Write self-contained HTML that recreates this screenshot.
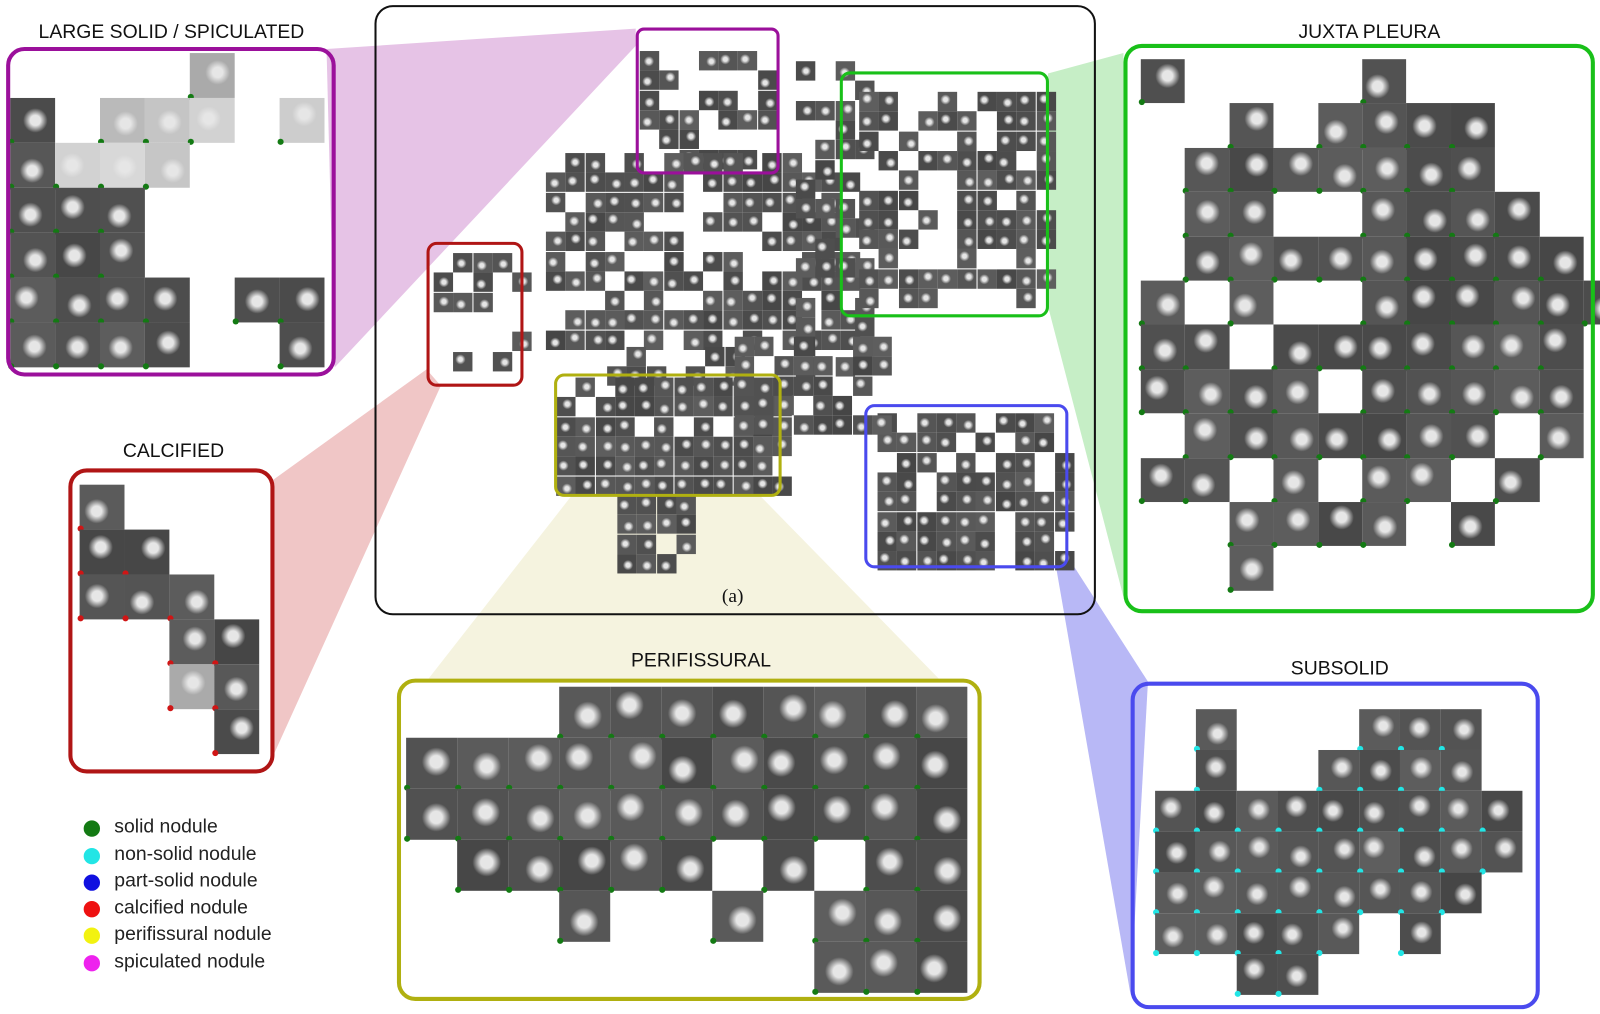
<!DOCTYPE html>
<html><head><meta charset="utf-8">
<style>
body{margin:0;width:1600px;height:1014px;background:#fff;position:relative;overflow:hidden;font-family:"Liberation Sans",sans-serif}
#w{position:absolute;left:0;top:0;width:1568px;height:994px;transform:scale(1.0204);transform-origin:0 0}
.b{position:absolute;border-radius:18px;box-sizing:border-box;border-style:solid}
.t{position:absolute;font-size:19px;color:#111;transform:translateX(-50%);white-space:nowrap}
.tile{position:absolute}
.dot{position:absolute;width:6px;height:6px;border-radius:50%}
.lg{position:absolute;left:82px;font-size:19px;color:#222}
.lg i{position:absolute;left:0;top:4px;width:16px;height:16px;border-radius:50%}
.lg span{position:absolute;left:30px;top:0;white-space:nowrap}
</style></head><body><div id="w">
<svg width="1568" height="994" style="position:absolute;left:0;top:0">
<polygon points="320,48 623,28 623,45 328,360" fill="#e6c3e6"/>
<polygon points="418,362 432,378 268,740 268,470" fill="#f0c6c6"/>
<polygon points="1027,72 1101,52 1101,585 1027,300" fill="#c6eec6"/>
<polygon points="560,486 745,486 920,665 420,665" fill="#f5f3df"/>
<polygon points="1035,556 1046,545 1125,668 1108,975" fill="#b8b8f6"/>
</svg>
<div class="b" style="left:367px;top:5px;width:707px;height:598px;border-width:2px;border-color:#111"></div>
<div class="t" style="left:718px;top:574px;font-family:'Liberation Serif',serif;font-size:19px">(a)</div>
<div id="tiles"></div>
<div class="b" style="left:623px;top:27px;width:141px;height:144px;border-width:3px;border-color:#9b109b;border-radius:8px"></div>
<div class="b" style="left:823px;top:70px;width:205px;height:241px;border-width:3px;border-color:#19c019;border-radius:10px"></div>
<div class="b" style="left:418px;top:237px;width:95px;height:142px;border-width:3px;border-color:#b01515;border-radius:10px"></div>
<div class="b" style="left:543px;top:366px;width:223px;height:121px;border-width:3px;border-color:#b0b010;border-radius:10px"></div>
<div class="b" style="left:847px;top:396px;width:200px;height:161px;border-width:3px;border-color:#4a4aee;border-radius:10px"></div>

<div class="b" style="left:6px;top:46px;width:323px;height:323px;border-width:4px;border-color:#9b109b"></div>
<div class="t" style="left:168px;top:21px">LARGE SOLID / SPICULATED</div>
<div class="b" style="left:67px;top:459px;width:202px;height:299px;border-width:4px;border-color:#b01515"></div>
<div class="t" style="left:170px;top:432px">CALCIFIED</div>
<div class="b" style="left:1101px;top:43px;width:462px;height:558px;border-width:4px;border-color:#19c019"></div>
<div class="t" style="left:1342px;top:21px">JUXTA PLEURA</div>
<div class="b" style="left:389px;top:665px;width:573px;height:316px;border-width:4px;border-color:#b0b010"></div>
<div class="t" style="left:687px;top:637px">PERIFISSURAL</div>
<div class="b" style="left:1108px;top:668px;width:401px;height:321px;border-width:4px;border-color:#4a4aee"></div>
<div class="t" style="left:1313px;top:645px">SUBSOLID</div>

<div class="lg" style="top:800px"><i style="background:#137a13"></i><span>solid nodule</span></div>
<div class="lg" style="top:827px"><i style="background:#22e5e5"></i><span>non-solid nodule</span></div>
<div class="lg" style="top:853px"><i style="background:#1010e0"></i><span>part-solid nodule</span></div>
<div class="lg" style="top:879px"><i style="background:#ee1111"></i><span>calcified nodule</span></div>
<div class="lg" style="top:905px"><i style="background:#f2f210"></i><span>perifissural nodule</span></div>
<div class="lg" style="top:932px"><i style="background:#ee22ee"></i><span>spiculated nodule</span></div>
</div>
<script>
var c=document.getElementById('tiles'),h='';
var s=7;function r(){s=(s*16807)%2147483647;return s/2147483647;}
function tile(x,y,w,light,dot){
 var g=light?(170+r()*50|0):(70+r()*25|0);var cc=230;
 var bg='radial-gradient(circle at '+(35+r()*30|0)+'% '+(35+r()*30|0)+'%, rgb('+cc+','+cc+','+cc+') 0, rgb('+cc+','+cc+','+cc+') '+(w*0.12|0)+'px, rgb('+g+','+g+','+g+') '+(w*0.28|0)+'px)';
 h+='<div class="tile" style="left:'+x+'px;top:'+y+'px;width:'+w+'px;height:'+w+'px;background:'+bg+'"></div>';
 if(dot)h+='<div class="dot" style="left:'+(x-2)+'px;top:'+(y+w-4)+'px;background:'+dot+'"></div>';
}
function grid(x0,y0,w,rows,light,dot){rows.forEach(function(row,i){for(var j=0;j<row.length;j++)if(row[j]!='.')tile(x0+j*w,y0+i*w,w,light||row[j]=='L',dot);});}
grid(10,52,44,["....L..","#.LLL.L","#LLL...","###....","###....","####.##","####..#"],false,'#137a13');
grid(78,475,44,["#...","##..","###.","..##","..L#","...#"],false,'#d01515');
grid(1118,58,43.4,["#....#....","..#.####..",".#######..",".##..####.",".#########","#.#..######","##.#######.","####.#####.",".#######.#.","##.#.##.#..","..####.#...","..#........"],false,'#137a13');
grid(398,673,50,["...########","###########","###########",".#####.#.##","...#..#.###","........###"],false,'#137a13');
grid(1132,695,40,[".#...###.",".#..####.","#########","#########","########.","#####.#..","..##....."],false,'#22e5e5');
function blob(x0,y0,x1,y1,d){for(var y=y0;y<y1;y+=19.3)for(var x=x0;x<x1;x+=19.3)if(r()<d)tile(Math.round(x),Math.round(y),19,false);}
blob(627,50,760,165,0.65);blob(535,150,830,340,0.72);blob(595,340,720,370,0.6);blob(780,60,850,360,0.55);
blob(842,90,1020,300,0.68);blob(545,370,765,485,0.9);blob(860,405,1040,545,0.8);
blob(425,248,505,368,0.45);blob(605,485,665,545,0.85);blob(720,330,860,420,0.6);
c.innerHTML=h;
</script>
</body></html>
